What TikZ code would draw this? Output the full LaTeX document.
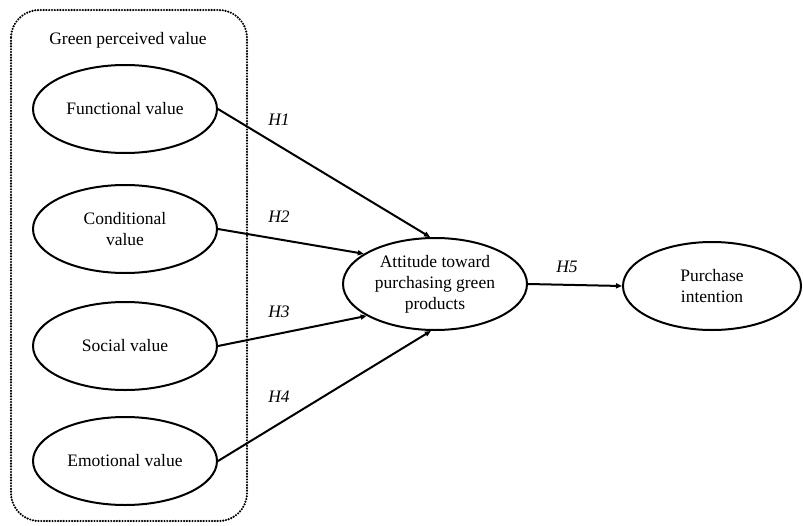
\documentclass[tikz,border=0pt]{standalone}
\usepackage{fontspec}
\setmainfont{Liberation Serif}
\usetikzlibrary{arrows.meta,shapes.geometric}

\begin{document}
\begin{tikzpicture}[line cap=round,line join=round,>={Triangle[length=6pt,width=5pt]},x=1pt,y=-1pt,
  var/.style={ellipse,draw,line width=2pt,inner sep=0pt,minimum width=184pt,minimum height=88pt,align=center,font=\fontsize{17.5}{21}\selectfont},
  hyp/.style={font=\fontsize{17.5}{21}\selectfont\itshape},
  path/.style={->,line width=2pt}]
\useasboundingbox (0,0) rectangle (803,525);
\draw[line width=2.4pt,dash pattern=on 0pt off 2.8pt,rounded corners=28pt] (11,10) rectangle (247,521);
\node[font=\fontsize{17.5}{21}\selectfont] (gpv) at (128,40) {Green perceived value};
\node[var] (fv) at (125,109) {Functional value};
\node[var] (cv) at (125,229) {Conditional\\value};
\node[var] (sv) at (125,346) {Social value};
\node[var] (ev) at (125,461) {Emotional value};
\node[var,minimum height=92pt] (att) at (435,284) {Attitude toward\\purchasing green\\products};
\node[var,minimum width=178pt] (pi) at (712,286) {Purchase\\intention};
\draw[path] (fv.east) -- (att.96);
\draw[path] (cv.east) -- (att.157);
\draw[path] (sv.east) -- (att.205);
\draw[path] (ev.east) -- (att.265);
\draw[path] (att.east) -- (pi.west);
\node[hyp] (h1) at (279,120) {H1};
\node[hyp] (h2) at (279,217) {H2};
\node[hyp] (h3) at (279,312) {H3};
\node[hyp] (h4) at (279,397) {H4};
\node[hyp] (h5) at (567,267) {H5};
\end{tikzpicture}
\end{document}
